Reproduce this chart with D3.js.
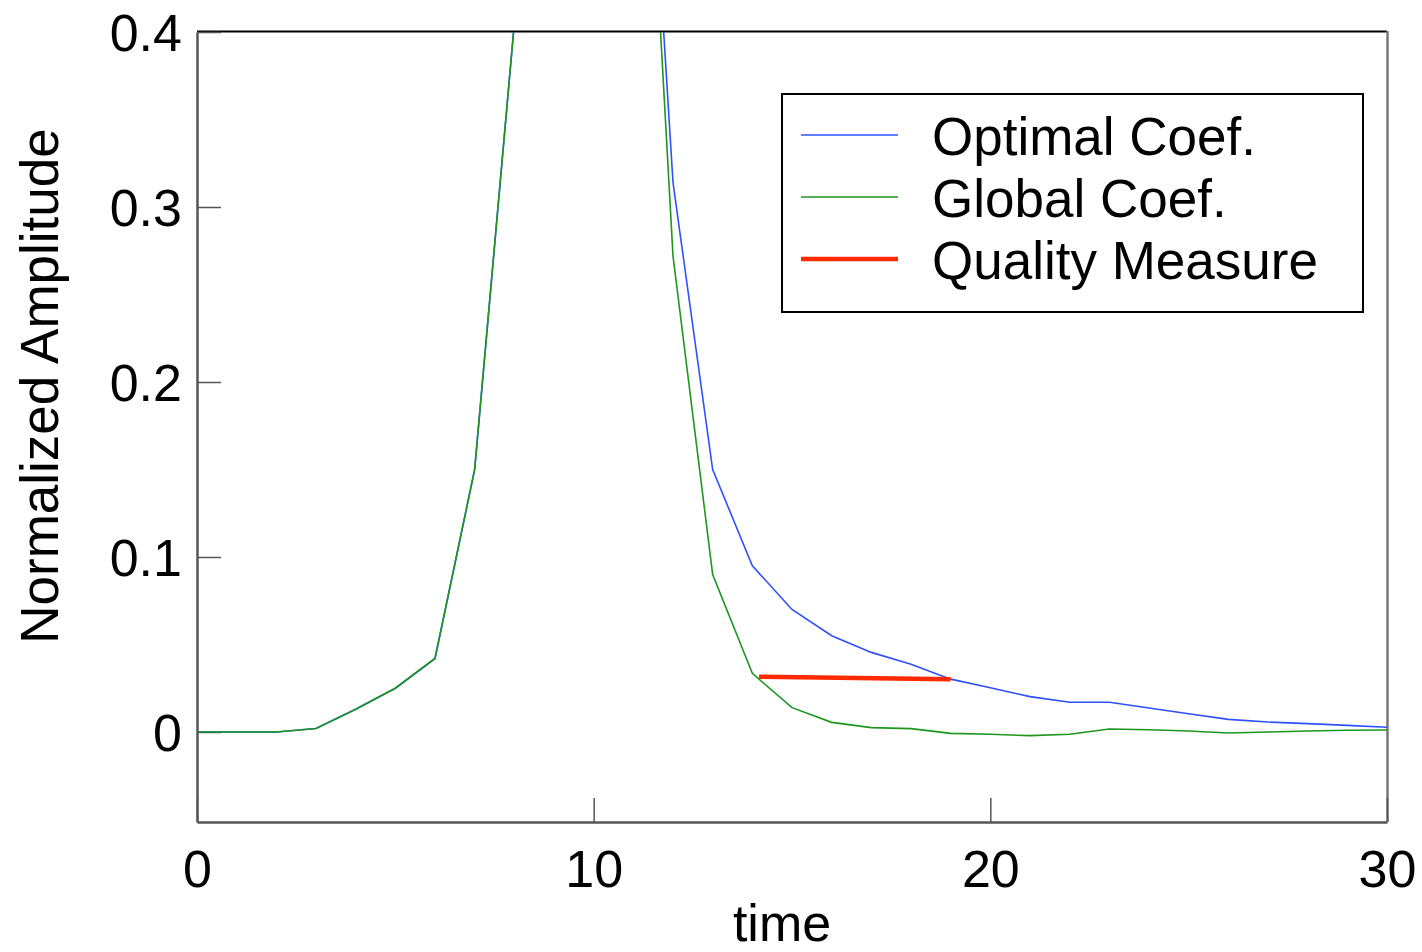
<!DOCTYPE html>
<html>
<head>
<meta charset="utf-8">
<script src="https://cdn.jsdelivr.net/npm/d3@7"></script>
<style>
  html, body { margin: 0; padding: 0; background: #fff; }
  svg { display: block; font-family: "Liberation Sans", Arial, Helvetica, sans-serif; }
</style>
</head>
<body>
<svg id="chart" width="1422" height="952"></svg>
<script>
// ---- data ----
const time = [0,1,2,3,4,5,6,7,8,9,10,11,12,13,14,15,16,17,18,19,20,21,22,23,24,25,26,27,28,29,30];
const optimalCoef = [0,0,0,0.002,0.013,0.025,0.042,0.150,0.405,0.80,1.00,0.68,0.314,0.150,0.095,0.070,0.055,0.0455,0.0387,0.0302,0.0253,0.0202,0.0170,0.0170,0.0137,0.0104,0.0072,0.0057,0.0048,0.0038,0.0027];
const globalCoef  = [0,0,0,0.002,0.013,0.025,0.042,0.150,0.405,0.80,1.00,0.68,0.272,0.090,0.0335,0.0139,0.0055,0.0025,0.0019,-0.0008,-0.0013,-0.0021,-0.0013,0.0017,0.0013,0.0006,-0.0006,0.0,0.0006,0.0010,0.0011];
const qualityTime = [14.17, 19.0];
const qualityValue = [0.0316, 0.0301];
const xTicks = [0, 10, 20, 30];
const yTicks = [0, 0.1, 0.2, 0.3, 0.4];
const seriesNames = ["Optimal Coef.", "Global Coef.", "Quality Measure"];
const seriesColors = ["#2f50ff", "#1e961e", "#ff2a00"];
const seriesWidths = [1.6, 1.6, 4.5];

// ---- layout ----
const svg = d3.select("#chart");
const pLeft = 197, pRight = 1387, pTop = 32, pBottom = 822;
const x = d3.scaleLinear().domain([0, 30]).range([pLeft, pRight]);
const y = d3.scaleLinear().domain([-0.05143, 0.4]).range([pBottom, pTop]);
const fontSize = 52;

svg.append("defs").append("clipPath").attr("id", "plotclip")
  .append("rect").attr("x", pLeft).attr("y", pTop).attr("width", pRight - pLeft).attr("height", pBottom - pTop);

// frame: top (black) and right (gray)
svg.append("line").attr("x1", pLeft).attr("x2", pRight).attr("y1", pTop - 0.5).attr("y2", pTop - 0.5)
  .attr("stroke", "#000").attr("stroke-width", 2);
svg.append("line").attr("x1", pRight + 0.5).attr("x2", pRight + 0.5).attr("y1", pTop - 1).attr("y2", pBottom)
  .attr("stroke", "#777").attr("stroke-width", 2.5);

// axes (inward ticks)
const xAxis = d3.axisBottom(x).tickValues(xTicks).tickSizeInner(-24).tickSizeOuter(0).tickPadding(28).tickFormat(d3.format("d"));
const gx = svg.append("g").attr("transform", `translate(0,${pBottom})`).call(xAxis);
gx.select(".domain").attr("stroke", "#555").attr("stroke-width", 2.5);
gx.selectAll(".tick line").attr("stroke", "#555").attr("stroke-width", 1.5);
gx.selectAll(".tick text").attr("font-size", fontSize).attr("fill", "#000")
  .attr("font-family", "Liberation Sans, Arial, sans-serif").attr("dy", "0.71em");

const yAxis = d3.axisLeft(y).tickValues(yTicks).tickSizeInner(-24).tickSizeOuter(0).tickPadding(15)
  .tickFormat(d => d === 0 ? "0" : d3.format(".1f")(d));
const gy = svg.append("g").attr("transform", `translate(${pLeft},0)`).call(yAxis);
gy.select(".domain").attr("stroke", "#555").attr("stroke-width", 2.5);
gy.selectAll(".tick line").attr("stroke", "#555").attr("stroke-width", 1.5);
gy.selectAll(".tick text").attr("font-size", fontSize).attr("fill", "#000")
  .attr("font-family", "Liberation Sans, Arial, sans-serif").attr("dy", "0.36em");

// axis labels
svg.append("text").attr("x", 782).attr("y", 941).attr("text-anchor", "middle")
  .attr("font-size", fontSize).attr("fill", "#000").text("time");
svg.append("text").attr("transform", "translate(58,386) rotate(-90)").attr("text-anchor", "middle")
  .attr("font-size", 53).attr("fill", "#000").text("Normalized Amplitude");

// lines
const plot = svg.append("g").attr("clip-path", "url(#plotclip)");
const line = d3.line().x(d => x(d[0])).y(d => y(d[1]));
plot.append("path").datum(time.map((t, i) => [t, optimalCoef[i]]))
  .attr("d", line).attr("fill", "none").attr("stroke", seriesColors[0]).attr("stroke-width", seriesWidths[0]);
plot.append("path").datum(time.map((t, i) => [t, globalCoef[i]]))
  .attr("d", line).attr("fill", "none").attr("stroke", seriesColors[1]).attr("stroke-width", seriesWidths[1]);
plot.append("path").datum(qualityTime.map((t, i) => [t, qualityValue[i]]))
  .attr("d", line).attr("fill", "none").attr("stroke", seriesColors[2]).attr("stroke-width", seriesWidths[2]);

// legend
const lg = svg.append("g");
lg.append("rect").attr("x", 782).attr("y", 94).attr("width", 581).attr("height", 218)
  .attr("fill", "#fff").attr("stroke", "#000").attr("stroke-width", 2);
seriesNames.forEach((name, i) => {
  const ly = 135 + i * 62;
  lg.append("line").attr("x1", 801).attr("x2", 898).attr("y1", ly).attr("y2", ly)
    .attr("stroke", seriesColors[i]).attr("stroke-width", seriesWidths[i]);
  lg.append("text").attr("x", 932).attr("y", ly + 20).attr("font-size", 53).attr("fill", "#000").text(name);
});
</script>
</body>
</html>
